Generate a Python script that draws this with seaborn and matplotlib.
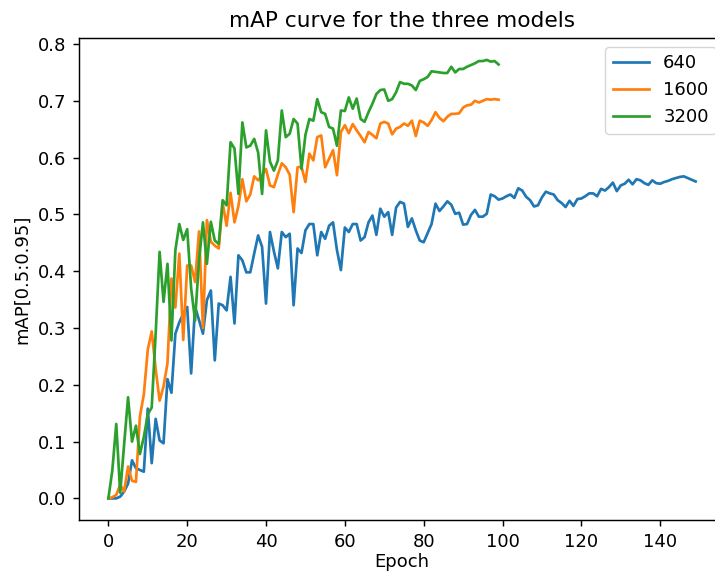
import matplotlib
matplotlib.use("Agg")
import matplotlib.pyplot as plt
import seaborn as sns
import pandas as pd

# ---------------- data ----------------
models = ["640", "1600", "3200"]

map_640 = [
    0.0, 0.0, 0.0, 0.003, 0.012, 0.026, 0.067, 0.053, 0.05, 0.047,
    0.158, 0.062, 0.14, 0.102, 0.097, 0.21, 0.186, 0.29, 0.31, 0.325,
    0.337, 0.22, 0.337, 0.314, 0.29, 0.349, 0.366, 0.243, 0.343, 0.34,
    0.331, 0.39, 0.308, 0.428, 0.419, 0.398, 0.398, 0.431, 0.463, 0.443,
    0.343, 0.469, 0.435, 0.405, 0.469, 0.46, 0.466, 0.34, 0.44, 0.432,
    0.472, 0.483, 0.483, 0.428, 0.469, 0.457, 0.48, 0.486, 0.437, 0.402,
    0.477, 0.469, 0.483, 0.483, 0.454, 0.46, 0.486, 0.498, 0.464, 0.51,
    0.496, 0.504, 0.464, 0.512, 0.522, 0.519, 0.478, 0.493, 0.472, 0.454,
    0.451, 0.467, 0.483, 0.519, 0.506, 0.514, 0.523, 0.517, 0.501, 0.503,
    0.482, 0.483, 0.499, 0.508, 0.496, 0.496, 0.501, 0.535, 0.532, 0.526,
    0.528, 0.532, 0.535, 0.529, 0.546, 0.542, 0.531, 0.525, 0.514, 0.516,
    0.53, 0.54, 0.537, 0.535, 0.525, 0.52, 0.513, 0.524, 0.515, 0.527,
    0.528, 0.532, 0.537, 0.537, 0.532, 0.545, 0.542, 0.548, 0.556, 0.541,
    0.551, 0.554, 0.561, 0.553, 0.562, 0.56, 0.555, 0.552, 0.56, 0.555,
    0.554, 0.557, 0.559, 0.562, 0.564, 0.566, 0.567, 0.564, 0.561, 0.558,
]

map_1600 = [
    0.0, 0.002, 0.006, 0.024, 0.012, 0.056, 0.031, 0.029, 0.144, 0.183,
    0.262, 0.294, 0.228, 0.172, 0.197, 0.238, 0.387, 0.336, 0.431, 0.279,
    0.41, 0.41, 0.381, 0.47, 0.30, 0.49, 0.452, 0.445, 0.44, 0.52,
    0.48, 0.538, 0.486, 0.515, 0.562, 0.523, 0.535, 0.567, 0.56, 0.569,
    0.58, 0.551, 0.548, 0.57, 0.59, 0.583, 0.57, 0.504, 0.583, 0.584,
    0.557, 0.607, 0.595, 0.636, 0.639, 0.583, 0.598, 0.613, 0.569, 0.645,
    0.657, 0.643, 0.659, 0.648, 0.638, 0.627, 0.645, 0.64, 0.634, 0.66,
    0.663, 0.66, 0.641, 0.651, 0.654, 0.66, 0.656, 0.665, 0.638, 0.665,
    0.662, 0.656, 0.666, 0.68, 0.67, 0.664, 0.672, 0.677, 0.677, 0.678,
    0.688, 0.692, 0.693, 0.70, 0.697, 0.70, 0.703, 0.702, 0.703, 0.702,
]

map_3200 = [
    0.0, 0.049, 0.131, 0.01, 0.095, 0.178, 0.10, 0.128, 0.078, 0.108,
    0.148, 0.16, 0.29, 0.434, 0.346, 0.413, 0.278, 0.437, 0.483, 0.455,
    0.474, 0.37, 0.313, 0.42, 0.486, 0.413, 0.487, 0.454, 0.448, 0.525,
    0.516, 0.627, 0.616, 0.536, 0.662, 0.618, 0.621, 0.633, 0.609, 0.536,
    0.648, 0.593, 0.577, 0.595, 0.683, 0.636, 0.642, 0.668, 0.66, 0.58,
    0.64, 0.668, 0.665, 0.703, 0.68, 0.677, 0.654, 0.651, 0.621, 0.683,
    0.682, 0.706, 0.686, 0.704, 0.668, 0.663, 0.68, 0.695, 0.712, 0.719,
    0.72, 0.70, 0.703, 0.715, 0.733, 0.73, 0.73, 0.727, 0.719, 0.735,
    0.738, 0.742, 0.752, 0.751, 0.75, 0.749, 0.749, 0.76, 0.75, 0.756,
    0.756, 0.76, 0.763, 0.766, 0.77, 0.77, 0.772, 0.769, 0.77, 0.764,
]

title = "mAP curve for the three models"
xlabel = "Epoch"
ylabel = "mAP[0.5:0.95]"

# ---------------- build long-form table ----------------
frames = []
for name, vals in zip(models, [map_640, map_1600, map_3200]):
    frames.append(pd.DataFrame({"Epoch": range(len(vals)), "mAP": vals, "model": name}))
df = pd.concat(frames, ignore_index=True)

# ---------------- style ----------------
s = 1.3
plt.rcParams.update({
    "font.family": ["DejaVu Sans"],
    "font.size": 10 * s,
    "axes.titlesize": 12 * s,
    "axes.labelsize": 10 * s,
    "xtick.labelsize": 10 * s,
    "ytick.labelsize": 10 * s,
    "legend.fontsize": 10 * s,
    "lines.linewidth": 1.5 * s,
    "axes.linewidth": 0.8 * s,
    "xtick.major.size": 3.5 * s,
    "ytick.major.size": 3.5 * s,
    "xtick.major.width": 0.8 * s,
    "ytick.major.width": 0.8 * s,
    "xtick.major.pad": 3.5 * s,
    "ytick.major.pad": 3.5 * s,
    "axes.titlepad": 6 * s,
    "axes.labelpad": 4 * s,
})

fig = plt.figure(figsize=(7.15, 5.74), dpi=100)
ax = fig.add_axes([79 / 715, (574 - 520.3) / 574, 646 / 715, (520.3 - 38) / 574])

palette = ["#1f77b4", "#ff7f0e", "#2ca02c"]
sns.lineplot(data=df, x="Epoch", y="mAP", hue="model", hue_order=models,
             palette=palette, errorbar=None, ax=ax, linewidth=1.5 * s)

ax.set_title(title)
ax.set_xlabel(xlabel, labelpad=1.5)
ax.set_ylabel(ylabel)
ax.set_xticks([0, 20, 40, 60, 80, 100, 120, 140])
ax.set_yticks([0.0, 0.1, 0.2, 0.3, 0.4, 0.5, 0.6, 0.7, 0.8])
ax.margins(x=0.05, y=0.05)

handles, labels = ax.get_legend_handles_labels()
ax.legend(handles, labels, loc="upper right")

fig.savefig("out.png", dpi=100)
